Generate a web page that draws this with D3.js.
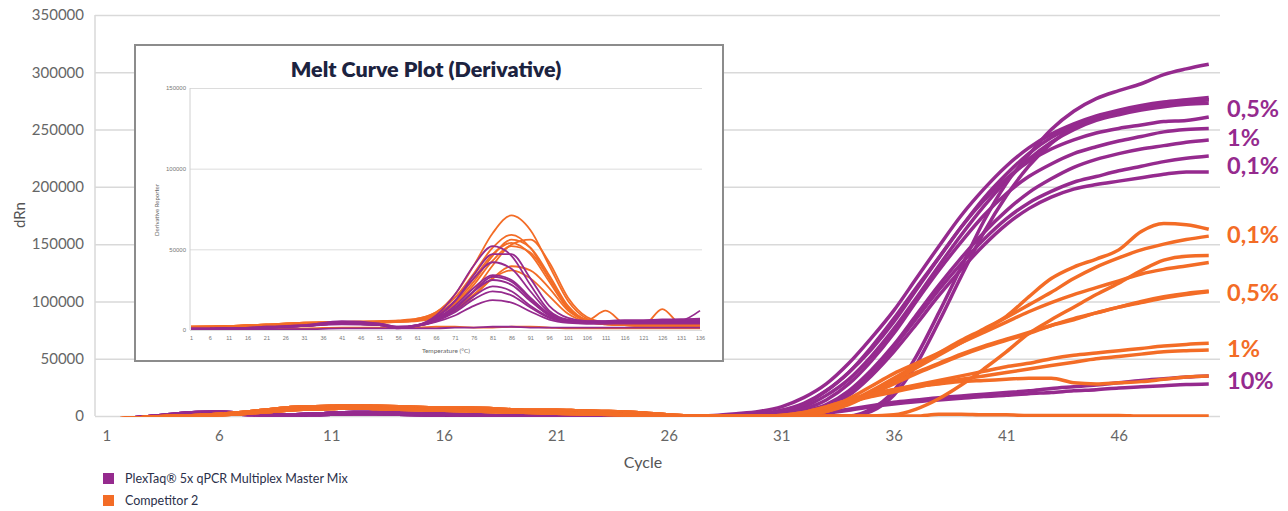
<!DOCTYPE html>
<html>
<head>
<meta charset="utf-8">
<script src="https://cdn.jsdelivr.net/npm/d3@7"></script>
<style>
  body { margin: 0; background: #fff; font-family: Lato, "Open Sans", sans-serif; }
</style>
</head>
<body>
<div id="chart"></div>
<script>
// ---- data: amplification curves (dRn per cycle) ----
const cycles = d3.range(1, 51);
const xTicks = [1, 6, 11, 16, 21, 26, 31, 36, 41, 46];
const yTicks = [0, 50000, 100000, 150000, 200000, 250000, 300000, 350000];

// cycles 1-26
const purpleEarlyA = [-4000, -2500, -500, 1500, 3000, 3500, 2500, 1500, 1000, 1000, 1500, 2000, 2000, 1500, 1000, 500, 500, 0, 0, 0, 0, 0, 0, 0, 0, 0];
const purpleEarlyB = [-4000, -2000, -500, 500, 1000, 1500, 1500, 1000, 1000, 1500, 2500, 3000, 3000, 2500, 2000, 1500, 1000, 500, 0, 0, 0, 0, 0, 0, 0, 0];
const orangeEarlyA = [-3000, -2000, -1000, 0, 500, 1500, 3000, 5000, 7000, 8000, 8500, 9000, 8500, 8000, 7500, 7000, 7000, 6500, 5500, 5000, 5000, 4500, 4000, 3500, 2500, 1000];
const orangeEarlyB = [-3000, -2000, -1000, -500, 0, 1000, 2000, 3500, 5000, 6000, 6500, 7000, 6500, 6000, 5500, 5000, 4500, 4000, 3500, 3000, 2500, 2000, 1500, 1000, 500, 0];

// cycles 27-50
const plexTaq = [
  [0, 500, 2000, 4000, 8000, 16000, 28000, 46000, 68000, 92000, 120000, 148000, 175000, 198000, 218000, 234000, 246000, 255000, 262000, 267000, 271000, 274000, 276000, 278000],
  [0, 0, 1000, 2000, 5000, 11000, 22000, 38000, 58000, 82000, 110000, 138000, 165000, 190000, 211000, 229000, 243000, 253000, 260000, 265000, 269000, 272000, 274000, 276000],
  [0, 0, 0, 1000, 3000, 8000, 18000, 32000, 52000, 76000, 103000, 131000, 158000, 183000, 205000, 224000, 239000, 250000, 258000, 263000, 267000, 270000, 272000, 273000],
  [0, 0, 0, 1000, 4000, 10000, 22000, 38000, 60000, 85000, 112000, 138000, 165000, 188000, 207000, 222000, 233000, 241000, 247000, 251000, 254000, 257000, 258000, 261000],
  [0, 0, 0, 500, 2000, 6000, 14000, 28000, 48000, 72000, 100000, 127000, 152000, 175000, 194000, 209000, 220000, 229000, 235000, 240000, 244000, 248000, 250000, 251000],
  [0, 0, 0, 0, 1000, 4000, 10000, 22000, 40000, 62000, 88000, 114000, 138000, 160000, 179000, 195000, 207000, 217000, 224000, 229000, 233000, 236000, 239000, 241000],
  [0, 0, 0, 0, 1000, 3000, 9000, 20000, 38000, 60000, 85000, 110000, 133000, 154000, 172000, 186000, 196000, 204000, 209000, 214000, 218000, 222000, 225000, 227000],
  [0, 0, 0, 0, 1000, 3000, 8000, 18000, 35000, 56000, 80000, 105000, 128000, 149000, 167000, 181000, 191000, 198000, 202000, 205000, 208000, 211000, 213000, 213000],
  [0, 0, 0, 0, 0, 0, 0, 0, 6000, 22000, 52000, 90000, 130000, 170000, 203000, 228000, 250000, 266000, 277000, 284000, 290000, 298000, 303000, 307000],
  [0, 0, 0, 0, 0, 0, 0, 0, 4000, 18000, 45000, 82000, 122000, 160000, 192000, 218000, 238000, 252000, 261000, 266000, 270000, 273000, 275000, 276000],
  [0, 0, 0, 0, 0, 1000, 3000, 6000, 9000, 12000, 14000, 16000, 17500, 19000, 20500, 22000, 24000, 25500, 27000, 29000, 31000, 32500, 34000, 35000],
  [0, 0, 0, 0, 0, 1000, 2500, 5000, 8000, 10500, 12500, 14000, 15500, 17000, 18000, 19500, 20500, 22000, 23000, 24500, 25500, 26500, 27500, 28000]
];
const competitor = [
  [0, 0, 0, 0, 0, 1000, 4000, 12000, 22000, 33000, 44000, 55000, 66000, 76000, 87000, 104000, 120000, 130000, 137000, 145000, 161000, 168000, 167000, 163000],
  [0, 0, 0, 0, 0, 1000, 4000, 11000, 20000, 31000, 42000, 53000, 64000, 75000, 86000, 97000, 108000, 120000, 130000, 138000, 145000, 150000, 154000, 157000],
  [0, 0, 0, 0, 0, 0, 0, 0, 0, 1000, 6000, 15000, 27000, 41000, 56000, 72000, 84000, 95000, 106000, 116000, 127000, 136000, 139500, 140000],
  [0, 0, 0, 0, 0, 1000, 6000, 15000, 26000, 37000, 46000, 55000, 64000, 73000, 82000, 91000, 99000, 106000, 112000, 118000, 124000, 128000, 131000, 134000],
  [0, 0, 0, 0, 0, 1000, 5000, 12000, 21000, 29000, 38000, 46000, 54000, 61000, 67000, 73000, 79000, 85000, 90000, 95000, 99000, 103000, 106000, 108500],
  [0, 0, 0, 0, 0, 1000, 4000, 10000, 19000, 28000, 37000, 45000, 53000, 60000, 66000, 72000, 79000, 84000, 90000, 95000, 100000, 104000, 107000, 109000],
  [0, 0, 0, 0, 500, 3000, 8000, 14000, 19000, 23000, 27000, 31000, 35000, 39000, 43000, 46000, 50000, 53000, 55000, 57000, 59000, 61000, 62500, 63400],
  [0, 0, 0, 0, 500, 2500, 7000, 12000, 17000, 21000, 25000, 29000, 32000, 35000, 38000, 41000, 44000, 47000, 50000, 52000, 54000, 56000, 57000, 57600],
  [0, 0, 0, 0, 500, 3000, 8000, 14000, 19000, 23000, 26000, 28000, 30000, 31000, 32000, 33000, 33000, 29000, 28000, 29000, 30000, 32000, 34000, 35000],
  [0, 0, 0, 0, 0, 0, 0, 0, 0, 0, 0, 1500, 1500, 1000, 1000, 500, 500, 500, 500, 500, 0, 0, 0, 0]
];

const labelTexts = ['0,5%', '1%', '0,1%', '0,1%', '0,5%', '1%', '10%'];
const labelGroups = ['p', 'p', 'p', 'o', 'o', 'o', 'p'];
const labelValues = [268000, 243000, 219000, 158000, 108000, 59000, 31000];

// ---- data: inset melt curves ----
const temps = [1, 11, 21, 31, 41, 51, 56, 61, 66, 71, 76, 81, 86, 91, 96, 101, 106, 111, 116, 121, 126, 131, 136];
const tempTicks = d3.range(1, 137, 5);
const derivTicks = [0, 50000, 100000, 150000];
const meltOrange = [
  [2000, 2500, 3500, 4500, 5000, 5000, 5500, 7000, 11000, 22000, 40000, 60000, 71000, 62000, 40000, 18000, 7000, 4000, 3000, 3000, 3000, 3000, 3000],
  [2000, 2500, 3500, 4500, 5000, 5500, 6000, 7000, 11000, 20000, 35000, 51000, 59000, 51000, 32000, 14000, 6000, 4000, 3500, 3000, 3000, 3000, 3000],
  [1500, 2000, 3000, 4000, 5000, 5500, 5500, 6500, 9500, 17000, 30000, 46000, 56000, 51000, 34000, 15000, 6000, 4000, 3000, 3000, 3000, 2500, 2500],
  [1500, 2000, 3000, 4000, 4500, 5000, 5500, 6000, 8000, 13000, 24000, 40000, 53000, 56000, 42000, 20000, 8000, 4500, 3500, 3000, 3000, 3000, 3000],
  [2000, 2500, 3000, 4000, 4500, 5000, 5500, 6500, 10000, 18000, 32000, 47000, 54000, 47000, 30000, 13000, 6000, 4000, 3000, 3000, 3000, 3000, 3000],
  [2000, 2500, 3500, 4500, 5000, 5000, 5000, 6000, 9000, 16000, 28000, 43000, 52000, 48000, 32000, 14000, 6000, 12000, 4000, 3000, 13000, 3500, 3000],
  [1500, 2000, 2500, 3500, 4000, 4500, 5000, 5500, 7500, 12000, 21000, 32000, 39500, 37000, 26000, 12000, 5500, 3500, 3000, 2500, 2500, 2500, 2500],
  [1500, 2000, 2500, 3500, 4000, 4500, 5000, 6000, 8000, 13000, 22000, 32000, 37000, 32000, 21000, 10000, 5000, 3500, 3000, 2500, 2500, 2500, 2500],
  [1000, 1000, 1000, 1000, 1500, 1500, 1500, 1500, 2000, 2000, 1500, 1500, 2000, 2000, 1500, 1000, 1000, 1000, 1000, 1000, 1000, 1000, 1000]
];
const meltPurple = [
  [500, 1000, 1500, 2500, 4000, 3000, 1500, 3000, 9000, 22000, 40000, 52000, 46000, 28000, 12000, 6500, 5500, 5500, 6000, 6000, 6500, 6500, 7000],
  [500, 1000, 1500, 2500, 5000, 3500, 1000, 2500, 7500, 18000, 34000, 47000, 47000, 32000, 15000, 7500, 5500, 5500, 6000, 6000, 6000, 6500, 6500],
  [1000, 1000, 2000, 3000, 5500, 4000, 2000, 3000, 8000, 18000, 32000, 42000, 38000, 24000, 11000, 6000, 5000, 5000, 5500, 5500, 6000, 6000, 6000],
  [500, 1000, 1500, 2500, 4500, 3500, 1500, 3000, 7000, 15000, 26000, 34000, 31000, 20000, 10000, 5500, 4500, 4500, 5000, 5000, 5500, 5500, 5500],
  [500, 1000, 1500, 2500, 4500, 3500, 1500, 2500, 6000, 13000, 24000, 33000, 30000, 19000, 9000, 5500, 5000, 5000, 5500, 5500, 5500, 6000, 12000],
  [1000, 1000, 2000, 3000, 5000, 4000, 2000, 3000, 7000, 14000, 24000, 31000, 28000, 18000, 9000, 5000, 4500, 4500, 5000, 5000, 5000, 5000, 5000],
  [500, 1000, 1500, 2500, 4000, 3000, 1500, 2500, 6000, 12000, 21000, 27000, 24000, 15000, 8000, 5000, 4500, 4500, 4500, 5000, 5000, 5000, 5000],
  [500, 1000, 1500, 2500, 4000, 3000, 1500, 2500, 5500, 11000, 19000, 24000, 21500, 14000, 7500, 5000, 4000, 4000, 4500, 4500, 4500, 4500, 4500],
  [500, 1000, 1500, 2500, 3500, 3000, 1500, 2500, 5000, 9000, 15000, 18500, 17000, 11500, 6500, 4500, 4000, 4000, 4000, 4000, 4000, 4000, 4000],
  [500, 500, 500, 500, 1000, 1000, 1000, 1000, 1000, 1500, 1500, 2000, 2000, 1500, 1500, 1500, 1500, 1500, 1500, 1500, 1500, 1500, 1500]
];

const purple = '#952a8e';
const orange = '#f36c26';

// ---- chart ----
const svg = d3.select('#chart')
  .append('svg')
  .attr('width', 1288)
  .attr('height', 511);

const plotLeft = 95, plotRight = 1220, plotTop = 15, plotBottom = 416;

const x = d3.scalePoint().domain(cycles).range([plotLeft, plotRight]).padding(0.5);
const y = d3.scaleLinear().domain([0, 350000]).range([plotBottom, plotTop]);

// gridlines + y labels
const yAxis = svg.append('g')
  .attr('transform', `translate(${plotLeft},0)`)
  .call(d3.axisLeft(y).tickValues(yTicks).tickSize(-(plotRight - plotLeft)).tickPadding(11).tickFormat(d3.format('d')));
yAxis.select('.domain').remove();
yAxis.selectAll('line').attr('stroke', '#d9d9d9').attr('stroke-width', 1.5);
yAxis.selectAll('text').attr('fill', '#666').style('font-size', '15px').style('font-family', 'Lato, sans-serif');

svg.append('line')
  .attr('x1', plotLeft).attr('x2', plotLeft).attr('y1', plotTop).attr('y2', plotBottom)
  .attr('stroke', '#d9d9d9').attr('stroke-width', 1.5);

// x labels
const xAxis = svg.append('g')
  .attr('transform', `translate(0,${plotBottom})`)
  .call(d3.axisBottom(x).tickValues(xTicks).tickSize(0).tickPadding(14));
xAxis.select('.domain').remove();
xAxis.selectAll('text').attr('fill', '#666').style('font-size', '15px').style('font-family', 'Lato, sans-serif');

svg.append('text')
  .attr('x', 643).attr('y', 468)
  .attr('text-anchor', 'middle')
  .attr('fill', '#555')
  .style('font-size', '16px')
  .text('Cycle');

svg.append('text')
  .attr('transform', 'translate(25,215) rotate(-90)')
  .attr('text-anchor', 'middle')
  .attr('fill', '#555')
  .style('font-size', '15px')
  .text('dRn');

// clip so curves stop at the zero line
svg.append('clipPath').attr('id', 'plot-clip')
  .append('rect').attr('x', plotLeft).attr('y', 0).attr('width', plotRight - plotLeft).attr('height', plotBottom + 1);

const line = d3.line()
  .x((d, i) => x(cycles[i]))
  .y(d => y(d))
  .curve(d3.curveMonotoneX);

const curves = svg.append('g').attr('clip-path', 'url(#plot-clip)');

plexTaq.forEach((late, i) => {
  const early = i < 5 ? purpleEarlyA : purpleEarlyB;
  curves.append('path')
    .datum(early.concat(late))
    .attr('d', line)
    .attr('fill', 'none')
    .attr('stroke', purple)
    .attr('stroke-width', 3.5)
    .attr('stroke-linejoin', 'round');
});

competitor.forEach((late, i) => {
  const early = i < 5 ? orangeEarlyA : orangeEarlyB;
  curves.append('path')
    .datum(early.concat(late))
    .attr('d', line)
    .attr('fill', 'none')
    .attr('stroke', orange)
    .attr('stroke-width', 3.5)
    .attr('stroke-linejoin', 'round');
});

// right-hand labels
svg.selectAll('.end-label')
  .data(labelTexts)
  .enter()
  .append('text')
  .attr('class', 'end-label')
  .attr('x', 1227)
  .attr('y', (d, i) => y(labelValues[i]))
  .attr('dy', '0.36em')
  .attr('fill', (d, i) => labelGroups[i] === 'p' ? purple : orange)
  .style('font-size', '23.5px')
  .style('font-weight', 700)
  .text(d => d);

// legend
const legend = [['PlexTaq® 5x qPCR Multiplex Master Mix', purple], ['Competitor 2', orange]];
legend.forEach(([name, color], i) => {
  svg.append('rect')
    .attr('x', 103).attr('y', 473 + i * 22)
    .attr('width', 11).attr('height', 11)
    .attr('fill', color);
  svg.append('text')
    .attr('x', 125).attr('y', 483 + i * 22)
    .attr('fill', '#2b2f4a')
    .style('font-size', '12.5px')
    .text(name);
});

// ---- inset: melt curve plot ----
const inset = svg.append('g');
inset.append('rect')
  .attr('x', 135).attr('y', 45)
  .attr('width', 588).attr('height', 316)
  .attr('fill', '#fff')
  .attr('stroke', '#8c8c8c')
  .attr('stroke-width', 2);

inset.append('text')
  .attr('x', 426).attr('y', 77)
  .attr('text-anchor', 'middle')
  .attr('fill', '#1c2340')
  .style('font-size', '21.5px')
  .style('font-weight', 800)
  .text('Melt Curve Plot (Derivative)');

const ix = d3.scaleLinear().domain([1, 136]).range([191, 700]);
const iy = d3.scaleLinear().domain([0, 150000]).range([330, 88]);

const iyAxis = inset.append('g')
  .attr('transform', 'translate(190,0)')
  .call(d3.axisLeft(iy).tickValues(derivTicks).tickSize(-512).tickPadding(4).tickFormat(d3.format('d')));
iyAxis.select('.domain').remove();
iyAxis.selectAll('line').attr('stroke', '#dcdcdc').attr('stroke-width', 1);
iyAxis.selectAll('text').attr('fill', '#777').style('font-size', '6px');

inset.append('line')
  .attr('x1', 190).attr('x2', 190).attr('y1', 88).attr('y2', 330)
  .attr('stroke', '#d0d0d0');

const ixAxis = inset.append('g')
  .attr('transform', 'translate(0,330)')
  .call(d3.axisBottom(ix).tickValues(tempTicks).tickSize(0).tickPadding(6));
ixAxis.select('.domain').remove();
ixAxis.selectAll('text').attr('fill', '#777').style('font-size', '5.5px');

inset.append('text')
  .attr('x', 446).attr('y', 353)
  .attr('text-anchor', 'middle')
  .attr('fill', '#666')
  .style('font-size', '6.5px')
  .text('Temperature (°C)');

inset.append('text')
  .attr('transform', 'translate(159,210) rotate(-90)')
  .attr('text-anchor', 'middle')
  .attr('fill', '#666')
  .style('font-size', '6px')
  .text('Derivative Reporter');

const meltLine = d3.line()
  .x((d, i) => ix(temps[i]))
  .y(d => iy(d))
  .curve(d3.curveMonotoneX);

meltOrange.forEach(vals => {
  inset.append('path')
    .datum(vals)
    .attr('d', meltLine)
    .attr('fill', 'none')
    .attr('stroke', orange)
    .attr('stroke-width', 1.8);
});
meltPurple.forEach(vals => {
  inset.append('path')
    .datum(vals)
    .attr('d', meltLine)
    .attr('fill', 'none')
    .attr('stroke', purple)
    .attr('stroke-width', 1.8);
});
</script>
</body>
</html>
